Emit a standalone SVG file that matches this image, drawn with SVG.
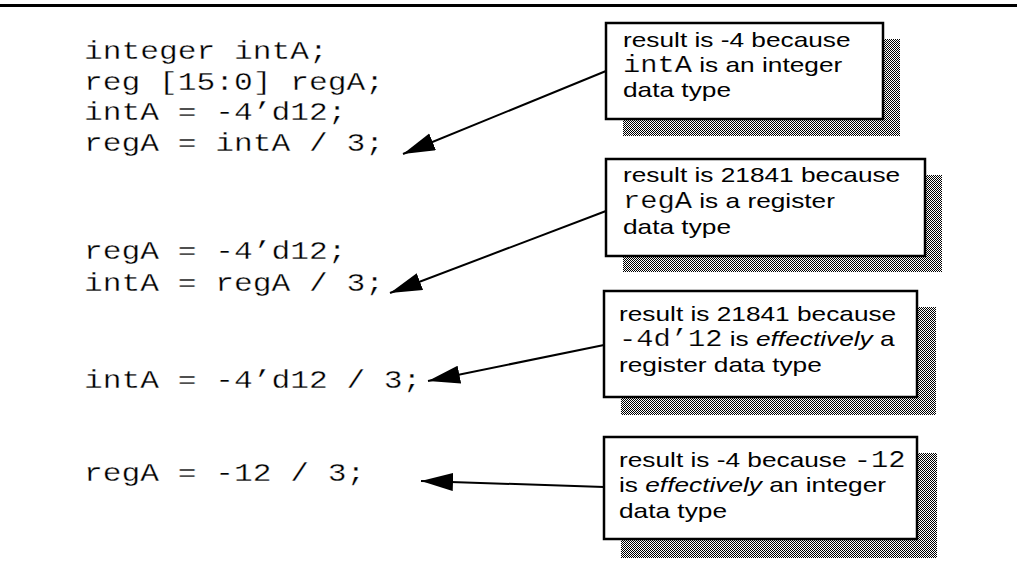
<svg xmlns="http://www.w3.org/2000/svg" width="1017" height="575" viewBox="0 0 1017 575">
<defs>
<pattern id="dither" patternUnits="userSpaceOnUse" width="2" height="2">
<rect x="0" y="0" width="2" height="2" fill="#fff"/>
<rect x="0" y="0" width="1" height="1" fill="#000"/>
<rect x="1" y="1" width="1" height="1" fill="#000"/>
</pattern>
<marker id="ah" markerUnits="userSpaceOnUse" markerWidth="34" markerHeight="20" refX="32" refY="9" orient="auto">
<path d="M0,0 L32,9 L0,18 Z" fill="#000"/>
</marker>
<style>
.code{font-family:"Liberation Mono","Courier New",monospace;font-size:25px;fill:#000;stroke:#fff;stroke-width:0.3}
.note{font-family:"Liberation Sans",Arial,sans-serif;font-size:21px;fill:#000}
.mono{font-family:"Liberation Mono","Courier New",monospace;font-size:23px;stroke:#fff;stroke-width:0.2}
.box{fill:#fff;stroke:#000;stroke-width:2.5}
.shadow{fill:url(#dither)}
.conn{stroke:#000;stroke-width:2;fill:none;marker-end:url(#ah)}
</style>
</defs>
<rect x="0" y="0" width="1017" height="575" fill="#fff"/>
<rect x="0" y="4" width="1017" height="3" fill="#000"/>
<g id="code" transform="translate(84,0) scale(1.25,1)">
<text class="code" x="0" y="59">integer intA;</text>
<text class="code" x="0" y="90">reg [15:0] regA;</text>
<text class="code" x="0" y="120">intA = -4’d12;</text>
<text class="code" x="0" y="151">regA = intA / 3;</text>
<text class="code" x="0" y="259">regA = -4’d12;</text>
<text class="code" x="0" y="291">intA = regA / 3;</text>
<text class="code" x="0" y="388">intA = -4’d12 / 3;</text>
<text class="code" x="0" y="481">regA = -12 / 3;</text>
</g>
<g id="connectors">
<path class="conn" d="M606,71 L403,154"/>
<path class="conn" d="M606,211 L390,293"/>
<path class="conn" d="M604,345 L428,381"/>
<path class="conn" d="M604,487 L421,481"/>
</g>
<g id="note1">
<rect class="shadow" x="623" y="39" width="277" height="97"/>
<rect class="box" x="606" y="23" width="277" height="96"/>
<g transform="translate(623,0) scale(1.25,1)">
<text class="note" x="0" y="47">result is -4 because</text>
<text class="note" x="0" y="72"><tspan class="mono">intA</tspan> is an integer</text>
<text class="note" x="0" y="97">data type</text>
</g>
</g>
<g id="note2">
<rect class="shadow" x="623" y="175" width="319" height="97"/>
<rect class="box" x="606" y="159" width="319" height="97"/>
<g transform="translate(623,0) scale(1.25,1)">
<text class="note" x="0" y="182">result is 21841 because</text>
<text class="note" x="0" y="208"><tspan class="mono">regA</tspan> is a register</text>
<text class="note" x="0" y="234">data type</text>
</g>
</g>
<g id="note3">
<rect class="shadow" x="621" y="307" width="315" height="108"/>
<rect class="box" x="604" y="291" width="313" height="106"/>
<g transform="translate(619,0) scale(1.25,1)">
<text class="note" x="0" y="321">result is 21841 because</text>
<text class="note" x="0" y="346"><tspan class="mono">-4d’12</tspan> is <tspan font-style="italic">effectively</tspan> a</text>
<text class="note" x="0" y="372">register data type</text>
</g>
</g>
<g id="note4">
<rect class="shadow" x="621" y="453" width="316" height="105"/>
<rect class="box" x="604" y="437" width="313" height="102"/>
<g transform="translate(619,0) scale(1.25,1)">
<text class="note" x="0" y="467">result is -4 because <tspan class="mono">-12</tspan></text>
<text class="note" x="0" y="492">is <tspan font-style="italic">effectively</tspan> an integer</text>
<text class="note" x="0" y="518">data type</text>
</g>
</g>
</svg>
